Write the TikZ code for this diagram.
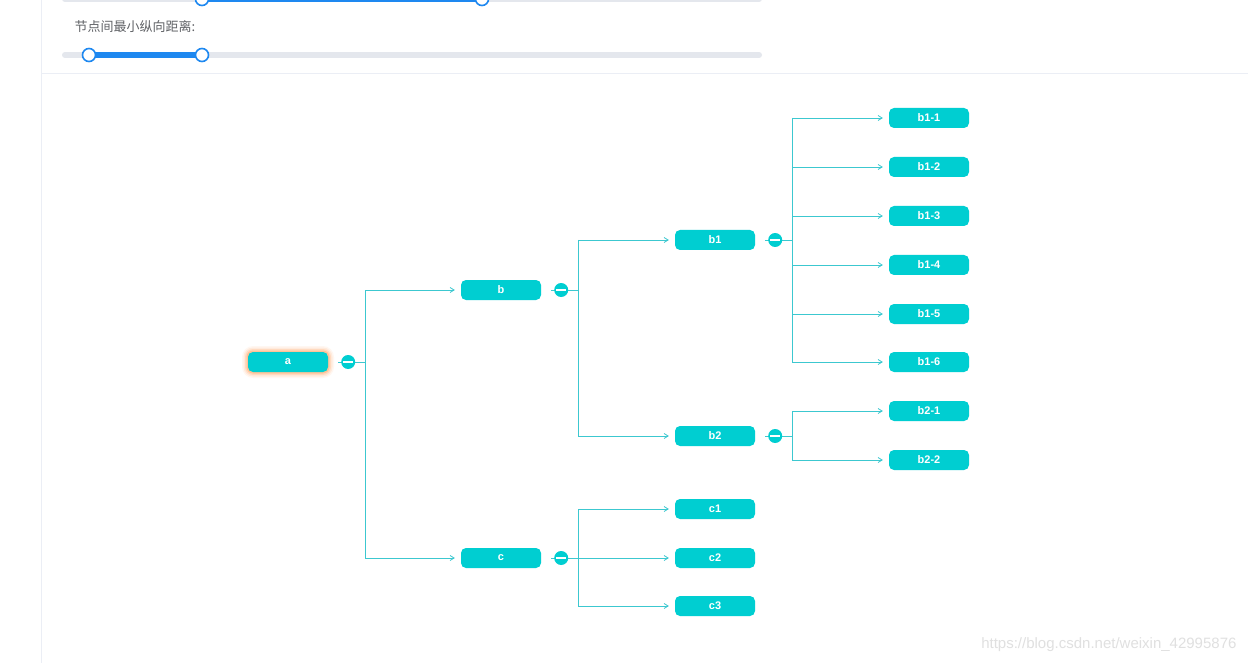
\documentclass[tikz,border=0pt]{standalone}
\usepackage{fontspec}
\setmainfont{Liberation Sans}
\newfontfamily\cjk{Noto Sans CJK SC}
\usetikzlibrary{arrows.meta}
\definecolor{tq}{HTML}{00CED1}
\definecolor{lnk}{HTML}{3CC8D0}
\definecolor{track}{HTML}{E4E7ED}
\definecolor{sblue}{HTML}{1E88F0}
\definecolor{sep}{HTML}{EBEEF5}
\definecolor{lbl}{HTML}{606266}
\definecolor{glow}{HTML}{FF9A50}
\begin{document}
\begin{tikzpicture}[x=1pt,y=-1pt,
  tnode/.style={fill=tq, rounded corners=5pt, minimum width=80pt, minimum height=20pt, inner sep=0pt, text=white, font=\bfseries\fontsize{11}{12}\selectfont},
  btn/.style={circle, fill=tq, minimum size=14pt, inner sep=0pt,
    path picture={\draw[white, line width=1.1pt] ([xshift=-5pt]path picture bounding box.center) -- ([xshift=5pt]path picture bounding box.center);}},
  link/.style={draw=lnk, line width=0.8pt},
  arr/.style={link, -{Straight Barb[length=4pt,width=5pt]}},
  handle/.style={circle, draw=sblue, fill=white, line width=1.6pt, minimum size=13pt, inner sep=0pt},
  trk/.style={line width=6pt, line cap=round, draw=track},
  fil/.style={line width=6pt, draw=sblue}]
\clip (0,0) rectangle (1248,663);
\fill[white] (0,0) rectangle (1248,663);
% page frame
\draw[sep, line width=1pt] (41,0) -- (41,663);
\draw[sep, line width=1pt] (41,74) -- (1248,74);
% sliders
\draw[trk] (65,-1) -- (759,-1);
\draw[fil] (202,-1) -- (482,-1);
\node[handle] (h1) at (202,-1) {};
\node[handle] (h2) at (482,-1) {};
\node[anchor=west, text=lbl, font=\cjk\fontsize{13}{15}\selectfont] (lab) at (71,27) {节点间最小纵向距离:};
\draw[trk] (65,55) -- (759,55);
\draw[fil] (89,55) -- (202,55);
\node[handle] (h3) at (89,55) {};
\node[handle] (h4) at (202,55) {};
% glow of a
\foreach \w/\o in {6/0.08,4.5/0.12,3/0.2,1.5/0.35}{
  \fill[glow, opacity=\o, rounded corners=5pt+\w pt] (248-\w,352-\w) rectangle (328+\w,372+\w);
}
% tree nodes
\node[tnode] (a) at (288,362) {a};
\node[tnode] (b) at (501,290) {b};
\node[tnode] (c) at (501,558) {c};
\node[tnode] (b1) at (715,240) {b1};
\node[tnode] (b2) at (715,436) {b2};
\node[tnode] (c1) at (715,509) {c1};
\node[tnode] (c2) at (715,558) {c2};
\node[tnode] (c3) at (715,606) {c3};
\node[tnode] (b11) at (929,118) {b1-1};
\node[tnode] (b12) at (929,167) {b1-2};
\node[tnode] (b13) at (929,216) {b1-3};
\node[tnode] (b14) at (929,265) {b1-4};
\node[tnode] (b15) at (929,314) {b1-5};
\node[tnode] (b16) at (929,362) {b1-6};
\node[tnode] (b21) at (929,411) {b2-1};
\node[tnode] (b22) at (929,460) {b2-2};
% buses
\coordinate (ba) at (365,362);
\coordinate (bb) at (578,290);
\coordinate (bc) at (578,558);
\coordinate (bb1) at (792,240);
\coordinate (bb2) at (792,436);
% connectors
\draw[link] ([xshift=10pt]a.east) -- (ba);
\draw[link] (ba |- b.west) -- (ba |- c.west);
\draw[arr] (ba |- b.west) -- ([xshift=-6pt]b.west);
\draw[arr] (ba |- c.west) -- ([xshift=-6pt]c.west);
\draw[link] ([xshift=10pt]b.east) -- (bb);
\draw[link] (bb |- b1.west) -- (bb |- b2.west);
\draw[arr] (bb |- b1.west) -- ([xshift=-6pt]b1.west);
\draw[arr] (bb |- b2.west) -- ([xshift=-6pt]b2.west);
\draw[link] ([xshift=10pt]c.east) -- (bc);
\draw[link] (bc |- c1.west) -- (bc |- c3.west);
\foreach \n in {c1,c2,c3}{\draw[arr] (bc |- \n.west) -- ([xshift=-6pt]\n.west);}
\draw[link] ([xshift=10pt]b1.east) -- (bb1);
\draw[link] (bb1 |- b11.west) -- (bb1 |- b16.west);
\foreach \n in {b11,b12,b13,b14,b15,b16}{\draw[arr] (bb1 |- \n.west) -- ([xshift=-6pt]\n.west);}
\draw[link] ([xshift=10pt]b2.east) -- (bb2);
\draw[link] (bb2 |- b21.west) -- (bb2 |- b22.west);
\foreach \n in {b21,b22}{\draw[arr] (bb2 |- \n.west) -- ([xshift=-6pt]\n.west);}
% collapse buttons
\node[btn] (ta) at ([xshift=20pt]a.east) {};
\node[btn] (tb) at ([xshift=20pt]b.east) {};
\node[btn] (tc) at ([xshift=20pt]c.east) {};
\node[btn] (tb1) at ([xshift=20pt]b1.east) {};
\node[btn] (tb2) at ([xshift=20pt]b2.east) {};
% watermark
\node[anchor=east, text=black!12, font=\fontsize{15}{17}\selectfont] (wm) at (1240,645) {https://blog.csdn.net/weixin\_42995876};
\end{tikzpicture}
\end{document}
